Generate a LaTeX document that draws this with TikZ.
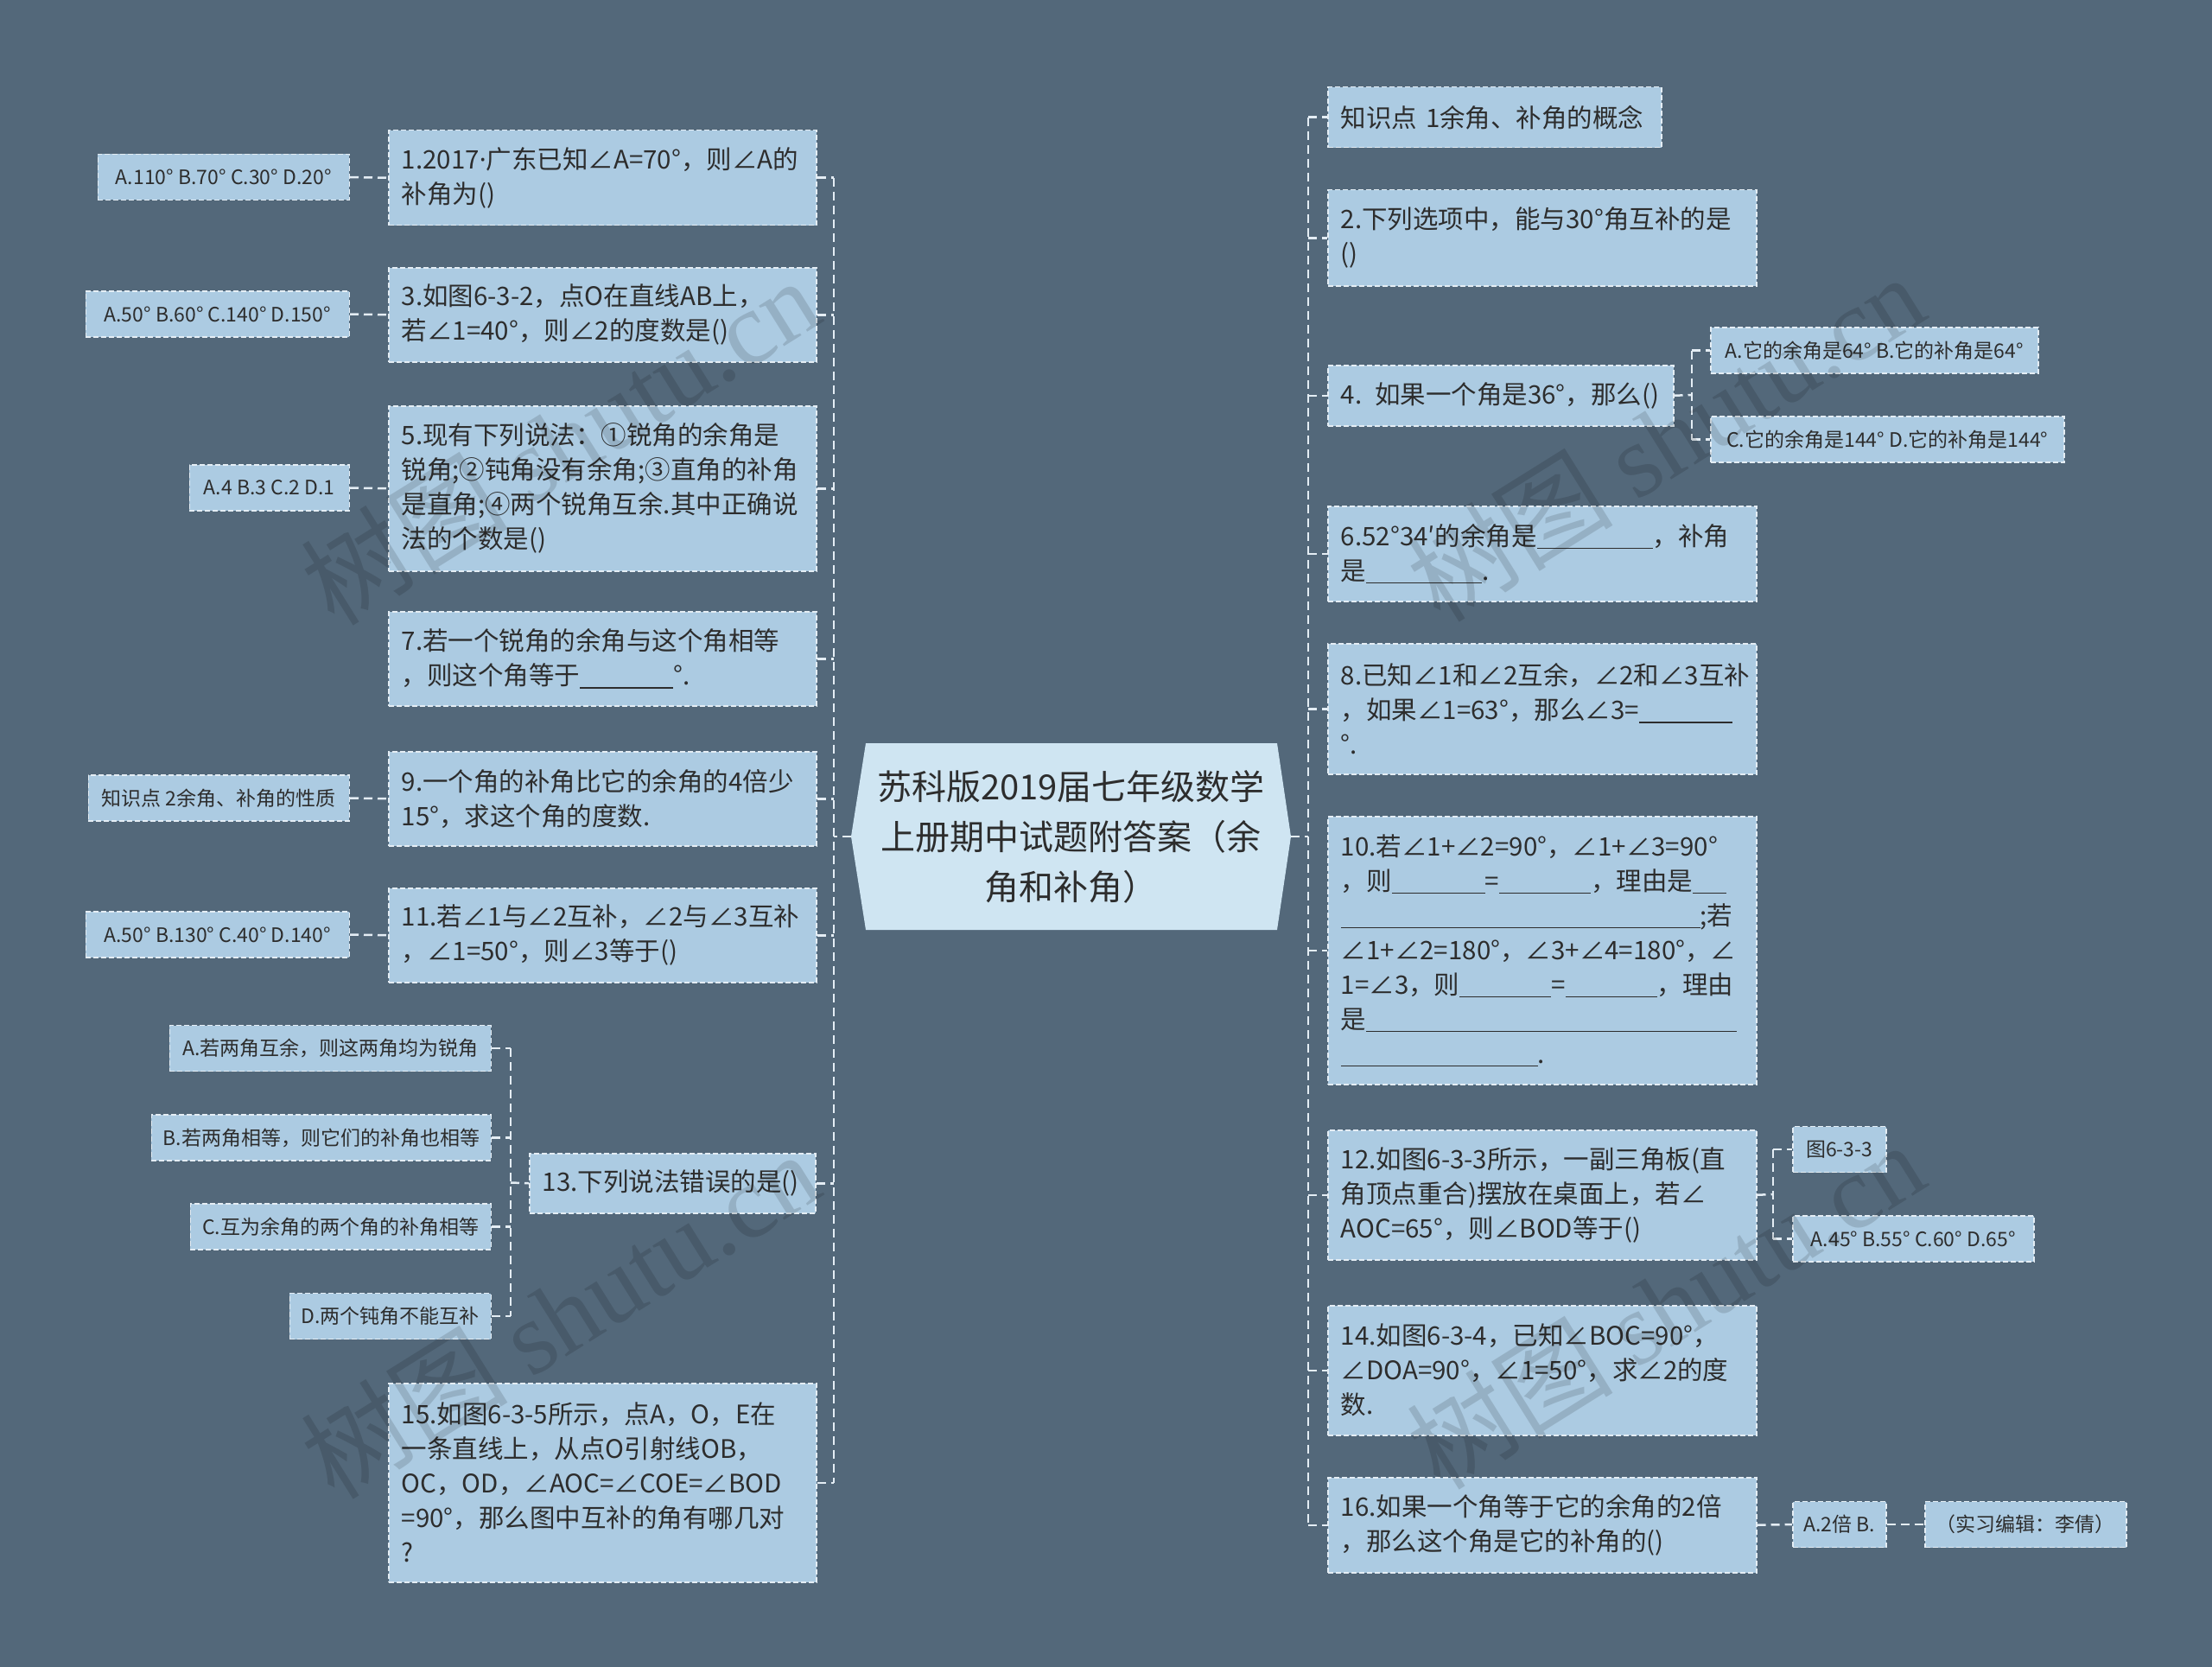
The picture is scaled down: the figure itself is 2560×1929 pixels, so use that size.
\documentclass[tikz,border=0pt]{standalone}
\usepackage{fontspec}
\setmainfont{Noto Sans CJK SC}
\newfontfamily\wmserif{Liberation Serif}
\newfontfamily\latdot{Noto Sans}
\definecolor{bg}{RGB}{83,104,122}
\definecolor{boxfill}{RGB}{172,203,226}
\definecolor{rootfill}{RGB}{207,229,242}
\definecolor{lineclr}{RGB}{228,237,244}
\definecolor{txt}{RGB}{45,45,45}
\newcommand\mainfs{\fontsize{29.5}{40}\selectfont}
\newcommand\leaffs{\fontsize{23}{28}\selectfont}
\newcommand\rootfs{\fontsize{40}{58}\selectfont}
\newcommand\bl[1]{\rule[-4pt]{#1pt}{1.5pt}}
\tikzset{
  mbox/.style={draw=lineclr, fill=boxfill, dash pattern=on 6pt off 3pt, line width=1.5pt,
    text=txt, font=\mainfs, align=left, inner xsep=15pt, inner ysep=0pt, anchor=north west,
    text width=#1},
  lbox/.style={draw=lineclr, fill=boxfill, dash pattern=on 6pt off 3pt, line width=1.5pt,
    text=txt, font=\leaffs, align=center, inner sep=0pt, minimum height=53pt, minimum width=#1},
  conn/.style={draw=lineclr, line width=2.5pt, dash pattern=on 10pt off 6pt},
  wm/.style={text=black, opacity=0.13, font=\fontsize{120}{120}\selectfont, inner sep=0pt}
}
\begin{document}
\begin{tikzpicture}[x=1pt,y=-1pt]
\fill[bg] (0,0) rectangle (2560,1929);
\useasboundingbox (0,0) rectangle (2560,1929);

% root
\fill[rootfill] (1002,860) -- (1478,860) -- (1494,968) -- (1478,1076) -- (1002,1076) -- (985,968) -- cycle;
\node[text=txt, font=\rootfs, align=center, inner sep=0pt, minimum width=509pt, minimum height=216pt] (root) at (1239.5,968)
  {苏科版2019届七年级数学\\上册期中试题附答案（余\\角和补角）};

% left main boxes
\node[mbox=465pt, minimum height=110pt] (b1) at (449,150) {1.2017{\latdot ·}广东已知∠A=70°，则∠A的\\补角为()};
\node[mbox=465pt, minimum height=109pt] (b3) at (449,309) {3.如图6-3-2，点O在直线AB上，\\若∠1=40°，则∠2的度数是()};
\node[mbox=465pt, minimum height=191pt] (b5) at (449,469) {5.现有下列说法：①锐角的余角是\\锐角;②钝角没有余角;③直角的补角\\是直角;④两个锐角互余.其中正确说\\法的个数是()};
\node[mbox=465pt, minimum height=109pt] (b7) at (449,707) {7.若一个锐角的余角与这个角相等\\，则这个角等于\bl{108}°.};
\node[mbox=465pt, minimum height=109pt] (b9) at (449,869) {9.一个角的补角比它的余角的4倍少\\15°，求这个角的度数.};
\node[mbox=465pt, minimum height=109pt] (b11) at (449,1027) {11.若∠1与∠2互补，∠2与∠3互补\\，∠1=50°，则∠3等于()};
\node[mbox=301pt, minimum height=69pt] (b13) at (612,1334) {13.下列说法错误的是()};
\node[mbox=465pt, minimum height=230pt] (b15) at (449,1600) {15.如图6-3-5所示，点A，O，E在\\一条直线上，从点O引射线OB，\\OC，OD，∠AOC=∠COE=∠BOD\\=90°，那么图中互补的角有哪几对\\?};

% left leaves
\node[lbox=291pt, anchor=east] (l1) at (405,205) {A.110° B.70° C.30° D.20°};
\node[lbox=305pt, anchor=east] (l3) at (405,363.5) {A.50° B.60° C.140° D.150°};
\node[lbox=185pt, anchor=east] (l5) at (405,564.5) {A.4 B.3 C.2 D.1};
\node[lbox=302pt, anchor=east] (l9) at (405,923.5) {知识点 2余角、补角的性质};
\node[lbox=305pt, anchor=east] (l11) at (405,1081.5) {A.50° B.130° C.40° D.140°};
\node[lbox=372pt, anchor=east] (l13a) at (569,1213) {A.若两角互余，则这两角均为锐角};
\node[lbox=393pt, anchor=east] (l13b) at (569,1316.5) {B.若两角相等，则它们的补角也相等};
\node[lbox=348pt, anchor=east] (l13c) at (569,1419.5) {C.互为余角的两个角的补角相等};
\node[lbox=233pt, anchor=east] (l13d) at (569,1523) {D.两个钝角不能互补};

% right main boxes
\node[mbox=356pt, minimum height=70pt] (r1) at (1536,100) {知识点 1余角、补角的概念};
\node[mbox=466pt, minimum height=111pt] (r2) at (1536,219) {2.下列选项中，能与30°角互补的是\\()};
\node[mbox=370pt, minimum height=70pt] (r4) at (1536,422) {4. 如果一个角是36°，那么()};
\node[mbox=466pt, minimum height=110pt] (r6) at (1536,585) {6.52°34′的余角是\bl{134}，补角\\是\bl{134}.};
\node[mbox=466pt, minimum height=151pt] (r8) at (1536,744) {8.已知∠1和∠2互余，∠2和∠3互补\\，如果∠1=63°，那么∠3=\bl{108}\\°.};
\node[mbox=466pt, minimum height=310pt] (r10) at (1536,944) {10.若∠1+∠2=90°，∠1+∠3=90°\\，则\bl{108}=\bl{106}，理由是\bl{39}\\\bl{416};若\\∠1+∠2=180°，∠3+∠4=180°，∠\\1=∠3，则\bl{106}=\bl{106}，理由\\是\bl{429}\\\bl{228}.};
\node[mbox=466pt, minimum height=150pt] (r12) at (1536,1307) {12.如图6-3-3所示，一副三角板(直\\角顶点重合)摆放在桌面上，若∠\\AOC=65°，则∠BOD等于()};
\node[mbox=466pt, minimum height=150pt] (r14) at (1536,1510) {14.如图6-3-4，已知∠BOC=90°，\\∠DOA=90°，∠1=50°，求∠2的度\\数.};
\node[mbox=466pt, minimum height=110pt] (r16) at (1536,1709) {16.如果一个角等于它的余角的2倍\\，那么这个角是它的补角的()};

% right leaves
\node[lbox=379pt, anchor=west] (r4a) at (1979,405.5) {A.它的余角是64° B.它的补角是64°};
\node[lbox=409pt, anchor=west] (r4b) at (1979,508.5) {C.它的余角是144° D.它的补角是144°};
\node[lbox=108pt, anchor=west] (r12a) at (2074,1330) {图6-3-3};
\node[lbox=279pt, anchor=west] (r12b) at (2074,1433.5) {A.45° B.55° C.60° D.65°};
\node[lbox=108pt, anchor=west] (r16a) at (2074,1764) {A.2倍 B.};
\node[lbox=233pt, anchor=west] (r16b) at (2227,1764) {（实习编辑：李倩）};

% connectors
\coordinate (lt) at (965,968);
\coordinate (rt) at (1514,968);
\draw[conn] (root.west) -- (lt);
\draw[conn] (root.east) -- (rt);
\draw[conn] (lt |- b1.east) -- (lt |- b15.east);
\draw[conn] (rt |- r1.west) -- (rt |- r16.west);
\foreach \b in {b1,b3,b5,b7,b9,b11,b13,b15} {\draw[conn] (\b.east) -- (lt |- \b.east);}
\foreach \r in {r1,r2,r4,r6,r8,r10,r12,r14,r16} {\draw[conn] (rt |- \r.west) -- (\r.west);}
\foreach \l/\b in {l1/b1,l3/b3,l5/b5,l9/b9,l11/b11} {\draw[conn] (\l.east) -- (\b.west);}
% 13 group
\coordinate (j13) at (591,1368.5);
\draw[conn] (j13 |- l13a.east) -- (j13 |- l13d.east);
\foreach \l in {l13a,l13b,l13c,l13d} {\draw[conn] (\l.east) -- (j13 |- \l.east);}
\draw[conn] (j13) -- (b13.west);
% 4 group
\coordinate (j4) at (1958,457);
\draw[conn] (j4 |- r4a.west) -- (j4 |- r4b.west);
\draw[conn] (r4.east) -- (j4);
\foreach \l in {r4a,r4b} {\draw[conn] (j4 |- \l.west) -- (\l.west);}
% 12 group
\coordinate (j12) at (2052,1382);
\draw[conn] (j12 |- r12a.west) -- (j12 |- r12b.west);
\draw[conn] (r12.east) -- (j12);
\foreach \l in {r12a,r12b} {\draw[conn] (j12 |- \l.west) -- (\l.west);}
% 16 chain
\draw[conn] (r16.east) -- (r16a.west);
\draw[conn] (r16a.east) -- (r16b.west);

% watermarks
\node[wm, rotate=32] (wm1) at (648,510) {树图 {\wmserif shutu.cn}};
\node[wm, rotate=32] (wm2) at (1927,506) {树图 {\wmserif shutu.cn}};
\node[wm, rotate=32] (wm3) at (648,1521) {树图 {\wmserif shutu.cn}};
\node[wm, rotate=32] (wm4) at (1927,1510) {树图 {\wmserif shutu.cn}};
\end{tikzpicture}
\end{document}
